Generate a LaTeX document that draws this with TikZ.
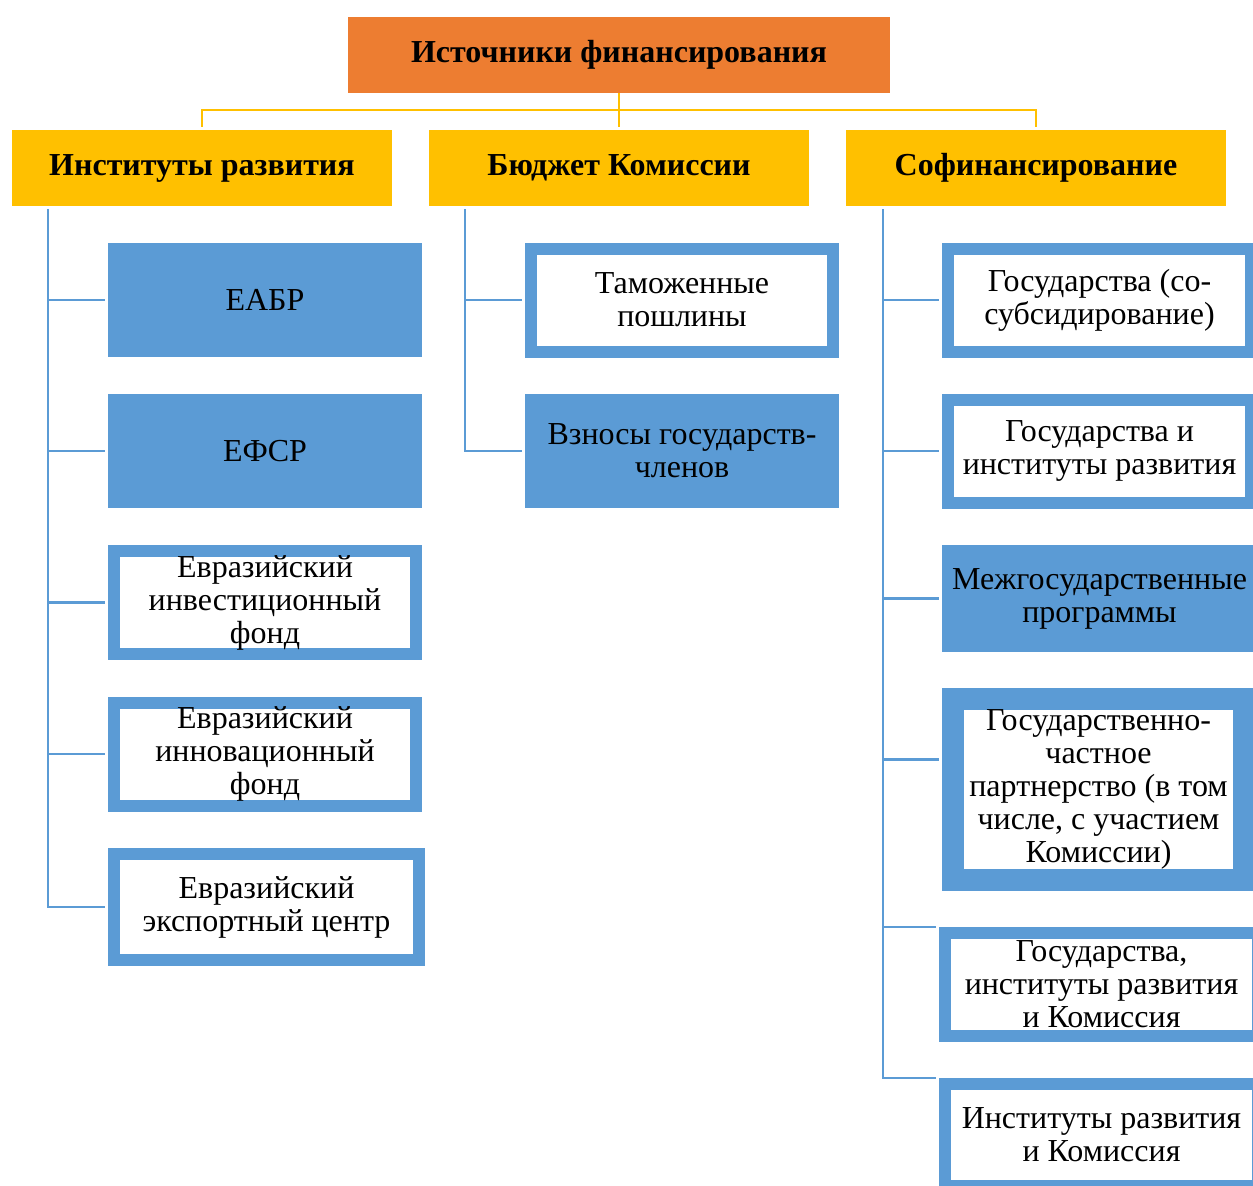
\documentclass[tikz,border=0pt]{standalone}
\usepackage{fontspec}
\setmainfont{Liberation Serif}
\definecolor{srcorange}{HTML}{ED7D31}
\definecolor{headyellow}{HTML}{FFC000}
\definecolor{itemblue}{HTML}{5B9BD5}
\begin{document}
\begin{tikzpicture}[
    x=1pt, y=-1pt,
    every node/.style={align=center, inner sep=0pt, font=\fontsize{32}{33}\selectfont},
    topbox/.style={fill=srcorange, minimum width=542pt, minimum height=76pt, font=\fontsize{32}{33}\selectfont\bfseries},
    headbox/.style={fill=headyellow, minimum width=380pt, minimum height=76pt, font=\fontsize{32}{33}\selectfont\bfseries},
    bluebox/.style={fill=itemblue, minimum width=314pt, minimum height=114pt},
    framebox/.style={draw=itemblue, line width=12pt, fill=white, minimum width=302pt, minimum height=103pt},
    yline/.style={draw=headyellow, line width=2.5pt, shorten >=3pt},
    bline/.style={draw=itemblue, line width=2.5pt, shorten <=3pt, shorten >=3pt}
]
\clip (0,0) rectangle (1253,1186);
% Верхние уровни
\node[topbox] (src) at (619,55) {Источники финансирования};
\node[headbox] (inst) at (202,168) {Институты развития};
\node[headbox] (budget) at (619,168) {Бюджет Комиссии};
\node[headbox] (cofin) at (1036,168) {Софинансирование};
\draw[yline] (src.south) -- ++(0,17) -| (inst.north);
\draw[yline] (src.south) -- ++(0,17) -| (budget.north);
\draw[yline] (src.south) -- ++(0,17) -| (cofin.north);
% Институты развития
\node[bluebox] (eabr) at (265,300) {ЕАБР};
\node[bluebox] (efsr) at (265,451) {ЕФСР};
\node[framebox] (eif) at (265,602.5) {Евразийский\\инвестиционный\\фонд};
\node[framebox] (einf) at (265,754) {Евразийский\\инновационный\\фонд};
\node[framebox, minimum width=305pt, minimum height=106pt] (eec) at (266.5,907) {Евразийский\\экспортный центр};
\foreach \c in {eabr,efsr,eif,einf,eec}
    \draw[bline] ([xshift=36pt]inst.south west) |- (\c.west);
% Бюджет Комиссии
\node[framebox] (duty) at (682,300) {Таможенные\\пошлины};
\node[bluebox] (fees) at (682,451) {Взносы государств-\\членов};
\foreach \c in {duty,fees}
    \draw[bline] ([xshift=36pt]budget.south west) |- (\c.west);
% Софинансирование
\node[framebox, minimum width=303pt] (cosub) at (1099.5,300) {Государства (со-\\субсидирование)};
\node[framebox, minimum width=303pt] (stinst) at (1099.5,451) {Государства и\\институты развития};
\node[bluebox, minimum width=315pt, minimum height=107pt] (interst) at (1099.5,598.5) {Межгосударственные\\программы};
\node[framebox, line width=22pt, minimum width=291pt, minimum height=181pt] (ppp) at (1098.5,789.5) {Государственно-\\частное\\партнерство (в том\\числе, с участием\\Комиссии)};
\node[framebox, minimum width=313pt] (stinstcom) at (1101.5,984.5) {Государства,\\институты развития\\и Комиссия};
\node[framebox, minimum width=313pt, minimum height=102pt] (instcom) at (1101.5,1135) {Институты развития\\и Комиссия};
\foreach \c in {cosub,stinst,interst}
    \draw[bline] ([xshift=37pt]cofin.south west) |- (\c.west);
\draw[bline] ([xshift=37pt]cofin.south west) |- ([yshift=30pt]ppp.west);
\foreach \c in {stinstcom,instcom}
    \draw[bline] ([xshift=37pt]cofin.south west) |- (\c.north west);
\end{tikzpicture}
\end{document}
